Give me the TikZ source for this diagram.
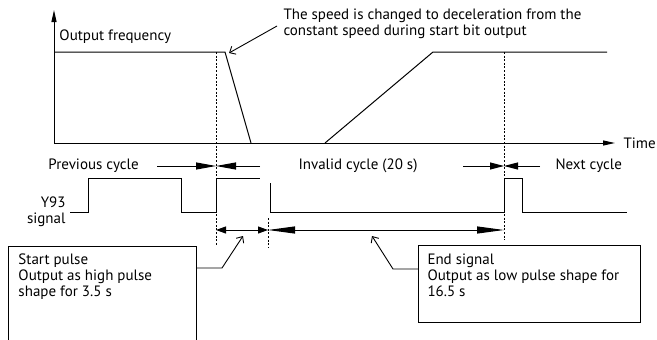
\documentclass[tikz,border=0pt]{standalone}
\usepackage{fontspec}
\setmainfont{PT Sans}
\usetikzlibrary{arrows.meta,calc}

\begin{document}
\begin{tikzpicture}[
    x=1pt, y=-1pt,
    line width=1pt,
    txt/.style={font=\fontsize{15}{16.2}\selectfont, inner sep=0pt},
    axis/.style={-{Triangle[length=12pt,width=5pt]}},
    guide/.style={line width=0.8pt, dash pattern=on 2pt off 1.6pt},
    span/.style={-{Triangle[length=#1,width=7pt]}},
    twin/.style={{Triangle[length=#1,width=7pt]}-{Triangle[length=#1,width=7pt]}},
    leader/.style={-{Straight Barb[length=5pt,width=9pt]}, line width=0.9pt},
    box/.style={draw, line width=0.9pt, inner sep=0pt, anchor=north west}
  ]
  \useasboundingbox (0,0) rectangle (657,340);

  % axes
  \coordinate (O) at (54,143);
  \coordinate (ytop) at (54,10);
  \coordinate (xend) at (615,143);
  \draw[axis] (O) -- (ytop);
  \draw[axis] (O) -- (xend);
  \node[txt, anchor=base west] (time) at (623,148) {Time};
  \node[txt, anchor=base west] (freq) at (59,41) {Output frequency};

  % output frequency
  \draw (54,52) -- (225,52) -- (251,143);
  \draw (325,143) -- (433,52) -- (607,52);

  % cycle boundaries
  \coordinate (b1) at (216,52);
  \coordinate (b2) at (504,52);
  \coordinate (b3) at (268,218);
  \draw[guide] (b1) -- (216,245);
  \draw[guide] (b2) -- (504,240);
  \draw[guide] (b3) -- (268,248);

  % cycle labels
  \node[txt, anchor=base west] (prev) at (48,169) {Previous cycle};
  \node[txt, anchor=base west] (inval) at (298,169) {Invalid cycle (20 s)};
  \node[txt, anchor=base west] (next) at (555,169) {Next cycle};
  \coordinate (p1) at (216,166);
  \coordinate (p2) at (504,166);
  \draw[span=20pt] (157,166) -- (p1);
  \draw[span=20pt] (260,166) -- (p1);
  \draw[span=14pt] (463,166) -- (p2);
  \draw[span=14pt] (540,166) -- (p2);

  % Y93 signal
  \node[txt, anchor=north east, align=right] (y93) at (66,196) {Y93\\signal};
  \draw (70,212) -- (88,212) -- (88,178) -- (181,178) -- (181,212)
    -- (216,212) -- (216,178) -- (260,178);
  \draw (270,183) -- (270,212) -- (504,212) -- (504,178) -- (522,178)
    -- (522,212) -- (627,212);

  % pulse widths
  \coordinate (w1) at (216,230);
  \coordinate (w2) at (268,230);
  \coordinate (w3) at (504,230);
  \draw[twin=10pt] (w1) -- (w2);
  \draw[twin=27pt] (w2) -- (w3);

  % callouts
  \node[box, minimum width=188pt, minimum height=110pt] (startbox) at (8,246) {};
  \node[txt, anchor=north west, align=left] (starttxt) at (18,253)
    {Start pulse\\Output as high pulse\\shape for 3.5 s};
  \coordinate (k1) at (222,268);
  \coordinate (sp) at (243,236);
  \draw[leader] (k1 -| startbox.east) -- (k1) -- (sp);

  \node[box, minimum width=222pt, minimum height=77pt] (endbox) at (418,245) {};
  \node[txt, anchor=north west, align=left] (endtxt) at (427,253)
    {End signal\\Output as low pulse shape for\\16.5 s};
  \coordinate (k2) at (393,269);
  \coordinate (ep) at (372,236);
  \draw[leader] (k2 -| endbox.west) -- (k2) -- (ep);

  \node[txt, anchor=north west, align=left] (note) at (283,8)
    {The speed is changed to deceleration from the\\constant speed during start bit output};
  \coordinate (n1) at (277,26);
  \coordinate (n2) at (229,53);
  \draw[leader] (n1) -- (n2);
\end{tikzpicture}
\end{document}
